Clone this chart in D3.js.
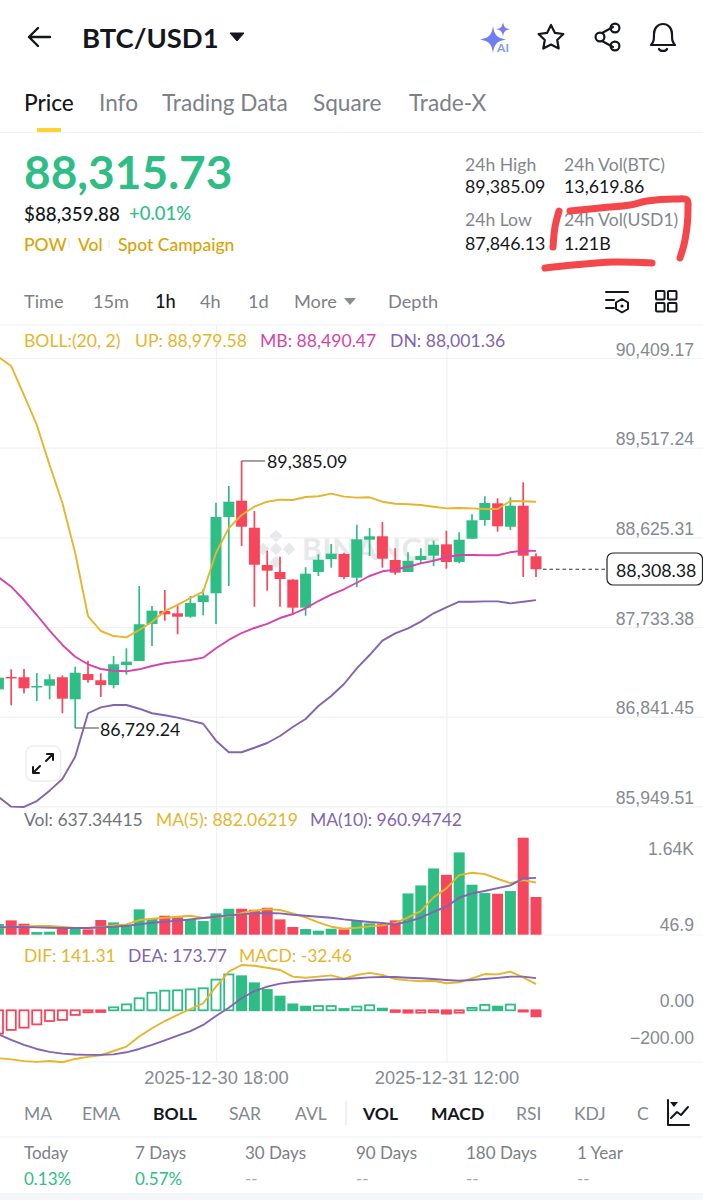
<!DOCTYPE html>
<html>
<head>
<meta charset="utf-8">
<title>BTC/USD1</title>
<script src="https://cdn.jsdelivr.net/npm/d3@7/dist/d3.min.js"></script>
<style>
html, body { margin: 0; padding: 0; background: #fff; }
svg { display: block; font-family: Lato, "Open Sans", sans-serif; }
</style>
</head>
<body>
<div id="chart"></div>
<script>
// candle data, 1h
const opens = [87114,87237,87234,87133,87150,87234,87015,87266,87204,87157,87356,87396,87764,87893,87870,87836,87982,88069,88828,88990,88721,88350,88281,88205,87926,88281,88410,88460,88224,88602,88636,88400,88281,88400,88443,88556,88380,88612,88798,88964,88731,88940,88437];
const highs = [87247,87313,87316,87276,87263,87253,87339,87399,87273,87445,87522,88142,87943,88102,87963,88042,88109,88970,89136,89385.09,88887,88493,88433,88208,88328,88457,88559,88473,88751,88718,88778,88517,88477,88517,88592,88691,88676,88855,89034,89014,89024,89173,88467];
const lows = [87107,86955,87074,86998,87015,86876,86729.24,87180,87038,87124,87259,87396,87545,87796,87661,87826,87850,87764,88142,88539,87936,88095,87936,87853,87846.13,88241,88324,88208,88129,88440,88324,88254,88281,88360,88340,88314,88367,88609,88741,88682,88699,88231,88231];
const closes = [87230,87222,87124,87147,87214,87021,87279,87207,87157,87363,87389,87761,87896,87860,87836,87972,88049,88828,88980,88731,88353,88294,88211,87926,88264,88403,88463,88231,88606,88636,88413,88274,88393,88440,88552,88380,88602,88795,88967,88735,88940,88443,88308.38];

// bollinger bands
const bollUp = [90419,90329,90041,89743,89345,88967,88470,87843,87694,87644,87631,87704,87783,87893,87953,88022,88085,88470,88718,88848,88930,88980,89000,88997,89027,89034,89060,89030,89020,89024,88980,88960,88954,88947,88930,88914,88917,88914,88907,88907,88987,88984,88979.58];
const bollMid = [88231,88135,88002,87853,87697,87555,87438,87363,87316,87299,87293,87313,87346,87373,87389,87406,87429,87522,87605,87674,87724,87764,87823,87863,87920,87992,88055,88109,88174,88241,88288,88304,88333,88367,88393,88427,88450,88450,88447,88447,88477,88493,88490.47];
const bollDn = [86046,85947,85944,86003,86106,86222,86444,86876,86935,86958,86958,86921,86876,86856,86832,86802,86772,86603,86488,86488,86533,86580,86650,86739,86819,86948,87048,87167,87323,87455,87598,87671,87721,87787,87870,87930,87985,87985,87989,87989,87969,87985,88001.36];

// volume pane
const volumes = [180,242,186,45,51,124,107,90,248,208,163,428,265,321,293,265,231,360,439,439,422,456,259,130,96,68,101,90,236,191,180,242,698,833,1120,1013,1391,845,704,692,738,1640,637.34];
const volMa5 = [118,129,141,146,146,129,113,113,129,158,175,248,270,287,304,321,282,298,315,366,405,433,417,360,293,208,135,101,118,141,158,197,293,400,631,783,1008,1047,1025,946,873,923,882.06];
const volMa10 = [124,129,129,124,118,113,113,113,124,135,152,175,203,220,236,259,282,304,327,343,360,366,360,338,321,304,287,259,236,214,197,175,220,287,388,473,625,698,738,788,833,951,960.95];

// macd pane
const dif = [-259,-265,-275,-279,-274,-281,-263,-252,-243,-220,-196,-142,-97,-58,-25,7,38,128,209,245,241,230,218,182,176,182,189,171,191,202,191,169,162,157,160,146,151,173,196,194,209,178,141.31];
const dea = [-130,-160,-187,-209,-225,-234,-239,-241,-241,-238,-227,-209,-187,-162,-137,-112,-79,-31,14,65,104,128,144,153,158,164,167,169,173,178,180,180,176,173,169,164,160,164,169,175,182,182,173.77];
const macd = [-126,-106,-94,-76,-58,-52,-25,-11,-9,16,32,65,95,106,108,113,119,166,194,184,146,110,74,32,20,23,23,7,20,27,9,-9,-13,-13,-11,-18,-13,13,29,20,31,-7,-32.46];

// axis ticks
const priceTicks = [90409.17,89517.24,88625.31,87733.38,86841.45,85949.51];
const volTicks = [1640,46.9];
const volTickLabels = ["1.64K","46.9"];
const macdTicks = [0,-200];
const timeTicks = [new Date(Date.UTC(2025,11,30,18)), new Date(Date.UTC(2025,11,31,12))];

// screen text
const navTabs = ["Price","Info","Trading Data","Square","Trade-X"];
const navTabX = [24,99,162,313,409];
const intervals = ["Time","15m","1h","4h","1d","More","Depth"];
const intervalX = [24,93,155,200,248,294,388];
const indicators = ["MA","EMA","BOLL","SAR","AVL","VOL","MACD","RSI","KDJ","C"];
const indicatorX = [24,82,153,229,295,363,431,516,574,637];
const activeIndicators = ["BOLL","VOL","MACD"];
const periods = ["Today","7 Days","30 Days","90 Days","180 Days","1 Year"];
const periodX = [24,135,245,356,466,577];
const periodValues = ["0.13%","0.57%","--","--","--","--"];

const green = "#2ebd85", red = "#f6465d", yellow = "#e6b52c", magenta = "#d445ac", purple = "#8264b0";
const gold = "#d9a406", gridColor = "#f0f1f3", ink = "#14171c", axisGrey = "#848a92";

const width = 703, height = 1200;
const svg = d3.select("#chart").append("svg").attr("width", width).attr("height", height);

const times = d3.utcHour.range(Date.UTC(2025,11,30,1), Date.UTC(2025,11,31,20));
const x = d3.scaleUtc().domain([times[0], times[times.length-1]]).range([-1.6, 536]);
const y = d3.scaleLinear().domain([90409.17, 85949.51]).range([358, 806.4]);
const yVol = d3.scaleLinear().domain([0, 1640]).range([934.7, 837.7]);
const yMacd = d3.scaleLinear().domain([0, -200]).range([1010.3, 1047.3]);
const candleW = 11;

function text(sel, px, py, str, size, fill, weight, anchor) {
    return sel.append("text")
        .attr("x", px).attr("y", py)
        .attr("dominant-baseline", "central")
        .attr("font-size", size)
        .attr("font-weight", weight || 400)
        .attr("text-anchor", anchor || "start")
        .attr("fill", fill)
        .text(str);
}
function rule(y0, x0, x1) {
    svg.append("line").attr("x1", x0 || 0).attr("x2", x1 || width).attr("y1", y0).attr("y2", y0)
        .attr("stroke", gridColor).attr("stroke-width", 1.2);
}
function icon(d, sw, tr) {
    return svg.append("path").attr("d", d).attr("fill", "none").attr("stroke", ink)
        .attr("stroke-width", sw || 2.4).attr("stroke-linecap", "round").attr("stroke-linejoin", "round")
        .attr("transform", tr || null);
}
function drawLine(data, scale, color, sw) {
    const line = d3.line().x(function(d, i) { return x(times[i]); }).y(function(d) { return scale(d); });
    svg.append("path").datum(data).attr("d", line).attr("fill", "none")
        .attr("stroke", color).attr("stroke-width", sw || 1.9).attr("stroke-linejoin", "round");
}

// header
icon("M50 37H29M38 28l-9 9 9 9");
text(svg, 82, 37, "BTC/USD1", 27.4, ink, 700);
svg.append("path").attr("d", "M230 33h14l-7 8z").attr("fill", ink).attr("stroke", ink).attr("stroke-linejoin", "round");
svg.append("path").attr("d", "M493 26c1.200 9 4 12 13 13.500-9 1.500-11.800 4.500-13 13.500-1.200-9-4-12-13-13.500 9-1.500 11.800-4.500 13-13.500z").attr("fill", "#6f7ef0");
svg.append("path").attr("d", "M503 22c.8 5 2.200 6.400 7 7.200-4.800.8-6.200 2.200-7 7.200-.8-5-2.200-6.400-7-7.200 4.800-.8 6.200-2.200 7-7.200z").attr("fill", "#7d78ee");
text(svg, 503, 47, "AI", 12, "#7f9cf5", 700, "middle");
icon("M551 25l3.800 7.800 8.600 1.200-6.200 6 1.500 8.500-7.700-4-7.700 4 1.500-8.500-6.200-6 8.600-1.200z", 2.2);
icon("M602 33l11-6M602 41l11 6", 2.2);
[[600,37],[615,28],[615,46]].forEach(function(c) {
    svg.append("circle").attr("cx", c[0]).attr("cy", c[1]).attr("r", 4.400).attr("fill", "none").attr("stroke", ink).attr("stroke-width", 2.2);
});
icon("M651 45c3-3 3-6 3-11 0-6 4-10 9-10s9 4 9 10c0 5 0 8 3 11zM659 49c1 2.500 7 2.500 8 0", 2.2);

// tabs
navTabs.forEach(function(t, i) {
    text(svg, navTabX[i], 102.500, t, 22.600, i === 0 ? ink : "#7c8087", i === 0 ? 500 : 400);
});
svg.append("rect").attr("x", 37).attr("y", 128).attr("width", 24).attr("height", 4).attr("fill", "#fcd535");
rule(132.500);

// price block
text(svg, 24, 171, "88,315.73", 46, green, 700);
text(svg, 24, 213, "$88,359.88", 18.800, ink, 500);
text(svg, 129, 213, "+0.01%", 18.500, green, 500);
[["POW",24],["Vol",78],["Spot Campaign",118]].forEach(function(p) { text(svg, p[1], 244, p[0], 17.500, gold, 500); });
svg.append("path").attr("d", "M69 240v8M109 240v8").attr("stroke", "#e5e5e5").attr("stroke-width", 1);

const statLabels = [["24h High",465,164],["24h Vol(BTC)",564,164],["24h Low",465,219],["24h Vol(USD1)",564,219]];
const statValues = [["89,385.09",465,186],["13,619.86",564,186],["87,846.13",465,243],["1.21B",564,243]];
statLabels.forEach(function(s) { text(svg, s[1], s[2], s[0], 17.600, "#83878d"); });
statValues.forEach(function(s) { text(svg, s[1], s[2], s[0], 17.800, ink); });

// interval row
intervals.forEach(function(t, i) {
    text(svg, intervalX[i], 300.500, t, 18.200, t === "1h" ? ink : "#7c8087", t === "1h" ? 500 : 400);
});
svg.append("path").attr("d", "M344 298h12l-6 7z").attr("fill", "#8a8e94");
icon("M606 292h22M606 300h8M606 308h8", 2, null);
icon("M622 299l6 3.500v6.500l-6 3.500-6-3.500v-6.500z", 2);
svg.append("circle").attr("cx", 622).attr("cy", 306).attr("r", 1.600).attr("fill", ink);
[[656,291],[668,291],[656,303],[668,303]].forEach(function(r) {
    svg.append("rect").attr("x", r[0]).attr("y", r[1]).attr("width", 8.500).attr("height", 8.500).attr("rx", 1)
        .attr("fill", "none").attr("stroke", ink).attr("stroke-width", 2);
});
rule(325);

// watermark, sits under the candles
const wm = svg.append("g").attr("fill", "#e7e8ea");
[[276,536],[263,549],[289,549],[276,562],[276,549]].forEach(function(c) {
    wm.append("rect").attr("x", c[0]-4.500).attr("y", c[1]-4.500).attr("width", 9).attr("height", 9)
        .attr("transform", "rotate(45 " + c[0] + " " + c[1] + ")");
});
text(wm, 302, 548, "BINANCE", 30, "#e7e8ea", 700).attr("letter-spacing", 0.8);

// grid and price axis
const yAxis = d3.axisLeft(y).tickValues(priceTicks).tickSize(width).tickFormat(d3.format(",.2f"));
const yAxisG = svg.append("g").attr("transform", "translate(" + width + ",0)").call(yAxis);
yAxisG.select(".domain").remove();
yAxisG.selectAll(".tick line").attr("stroke", gridColor).attr("stroke-width", 1.2);
yAxisG.selectAll(".tick text").attr("x", -9).attr("dy", -9).attr("dominant-baseline", "central")
    .attr("font-size", 17.600).attr("fill", axisGrey).attr("font-family", "inherit");

// time axis, gridlines run up through all panes
const xAxis = d3.axisBottom(x).tickValues(timeTicks).tickSize(-737).tickFormat(d3.utcFormat("%Y-%m-%d %H:%M"));
const xAxisG = svg.append("g").attr("transform", "translate(0,1062)").call(xAxis);
xAxisG.select(".domain").remove();
xAxisG.selectAll(".tick line").attr("stroke", gridColor).attr("stroke-width", 1.2);
xAxisG.selectAll(".tick text").attr("y", 15).attr("dy", 0).attr("dominant-baseline", "central")
    .attr("font-size", 18.300).attr("fill", axisGrey).attr("font-family", "inherit");
rule(935);
rule(1062);

// candles
const candles = svg.append("g").selectAll("g").data(times).enter().append("g");
candles.append("line")
    .attr("x1", function(d) { return x(d); }).attr("x2", function(d) { return x(d); })
    .attr("y1", function(d, i) { return y(highs[i]); }).attr("y2", function(d, i) { return y(lows[i]); })
    .attr("stroke", function(d, i) { return closes[i] >= opens[i] ? green : red; })
    .attr("stroke-width", 1.700);
candles.append("rect")
    .attr("x", function(d) { return x(d) - candleW/2; }).attr("width", candleW)
    .attr("y", function(d, i) { return y(Math.max(opens[i], closes[i])); })
    .attr("height", function(d, i) { return Math.max(1.500, y(Math.min(opens[i], closes[i])) - y(Math.max(opens[i], closes[i]))); })
    .attr("fill", function(d, i) { return closes[i] >= opens[i] ? green : red; });

drawLine(bollUp, y, yellow);
drawLine(bollMid, y, magenta);
drawLine(bollDn, y, purple);

// high / low callouts
svg.append("path").attr("d", "M" + x(times[19]) + " " + y(89385.09) + "H265").attr("stroke", "#6b6f75").attr("stroke-width", 1.3);
text(svg, 267, y(89385.09), "89,385.09", 17.800, ink);
svg.append("path").attr("d", "M" + x(times[6]) + " " + y(86729.24) + "H99").attr("stroke", "#6b6f75").attr("stroke-width", 1.3);
text(svg, 100, y(86729.24) + 1, "86,729.24", 17.800, ink);

// last price
svg.append("line").attr("x1", 543).attr("x2", 607).attr("y1", y(88308.38)).attr("y2", y(88308.38))
    .attr("stroke", "#333").attr("stroke-width", 1.2).attr("stroke-dasharray", "3.500 3");
svg.append("rect").attr("x", 607).attr("y", 553).attr("width", 95.500).attr("height", 32).attr("rx", 6)
    .attr("fill", "#fff").attr("stroke", "#222").attr("stroke-width", 1.2);
text(svg, 616, 569.500, "88,308.38", 17.800, ink);

// expand button
svg.append("rect").attr("x", 26).attr("y", 746).attr("width", 34.500).attr("height", 35).attr("rx", 7)
    .attr("fill", "#fff").attr("stroke", "#eeeeee").attr("stroke-width", 1.500);
icon("M33 773l7-7M33 767v6h6M53 754l-7 7M47 754h6v6", 2);

// legends
[["BOLL:(20, 2)",24,yellow],["UP: 88,979.58",135,yellow],["MB: 88,490.47",260,magenta],["DN: 88,001.36",390,purple]]
    .forEach(function(l) { text(svg, l[1], 340, l[0], 17.600, l[2]); });
[["Vol: 637.34415",24,"#6f747b"],["MA(5): 882.06219",156,yellow],["MA(10): 960.94742",310,purple]]
    .forEach(function(l) { text(svg, l[1], 819, l[0], 17.500, l[2]); });
[["DIF: 141.31",24,yellow],["DEA: 173.77",128,purple],["MACD: -32.46",239,yellow]]
    .forEach(function(l) { text(svg, l[1], 955, l[0], 17.500, l[2]); });

// volume
svg.append("g").selectAll("rect").data(volumes).enter().append("rect")
    .attr("x", function(d, i) { return x(times[i]) - candleW/2; }).attr("width", candleW)
    .attr("y", function(d) { return yVol(d); })
    .attr("height", function(d) { return yVol(0) - yVol(d); })
    .attr("fill", function(d, i) { return closes[i] >= opens[i] ? green : red; });
drawLine(volMa5, yVol, yellow);
drawLine(volMa10, yVol, purple);

const volAxis = d3.axisLeft(yVol).tickValues(volTicks).tickSize(0).tickFormat(function(d, i) { return volTickLabels[i]; });
const volAxisG = svg.append("g").attr("transform", "translate(694,0)").call(volAxis);
volAxisG.select(".domain").remove();
volAxisG.selectAll(".tick text").attr("x", 0).attr("dominant-baseline", "central")
    .attr("dy", function(d, i) { return i === 0 ? 11 : -7; })
    .attr("font-size", 17.600).attr("fill", axisGrey).attr("font-family", "inherit");

// macd histogram, bars are hollow while the value is rising
svg.append("g").selectAll("rect").data(macd).enter().append("rect")
    .attr("x", function(d, i) { return x(times[i]) - candleW/2 + 0.9; }).attr("width", candleW - 1.8)
    .attr("y", function(d) { return yMacd(Math.max(d, 0)); })
    .attr("height", function(d) { return Math.abs(yMacd(d) - yMacd(0)); })
    .attr("fill", function(d, i) { return (i === 0 || d >= macd[i-1]) ? "#fff" : (d >= 0 ? green : red); })
    .attr("stroke", function(d) { return d >= 0 ? green : red; })
    .attr("stroke-width", 1.800);
drawLine(dif, yMacd, yellow);
drawLine(dea, yMacd, purple);

const macdAxis = d3.axisLeft(yMacd).tickValues(macdTicks).tickSize(0).tickFormat(d3.format(".2f"));
const macdAxisG = svg.append("g").attr("transform", "translate(694,0)").call(macdAxis);
macdAxisG.select(".domain").remove();
macdAxisG.selectAll(".tick text").attr("x", 0).attr("dy", -10).attr("dominant-baseline", "central")
    .attr("font-size", 17.600).attr("fill", axisGrey).attr("font-family", "inherit");

// indicator row
indicators.forEach(function(t, i) {
    const on = activeIndicators.indexOf(t) >= 0;
    text(svg, indicatorX[i], 1113, t, 17.500, on ? ink : "#84888e", on ? 700 : 400);
});
svg.append("path").attr("d", "M346 1101v24").attr("stroke", "#e6e6e6").attr("stroke-width", 1.2);
svg.append("rect").attr("x", 651).attr("y", 1095).attr("width", 52).attr("height", 36).attr("fill", "#fff");
icon("M668 1100v25h21M671 1118l6-6 4 3 7-8", 2);
svg.append("path").attr("d", "M670 1102h8l-4 5z").attr("fill", ink);
rule(1137);

// period returns
periods.forEach(function(t, i) {
    text(svg, periodX[i], 1152, t, 17, "#7c8087");
    text(svg, periodX[i], 1178, periodValues[i], 17, periodValues[i] === "--" ? "#a7abb0" : green);
});
svg.append("rect").attr("x", 0).attr("y", 1193).attr("width", width).attr("height", 7).attr("fill", "#f5f6f7");

// red marker scribble over the stats block
const scribble = d3.line().curve(d3.curveCatmullRom);
[[[570,211],[600,208],[630,205],[647,201],[676,199],[687,200],[688,208],[685,240],[680,258]],
 [[559,211],[555,227],[553,247]],
 [[545,268],[573,265],[613,262],[652,263]]].forEach(function(s) {
    svg.append("path").attr("d", scribble(s)).attr("fill", "none").attr("stroke", "#f4474b")
        .attr("stroke-width", 7).attr("stroke-linecap", "round").attr("stroke-linejoin", "round");
});
</script>
</body>
</html>
